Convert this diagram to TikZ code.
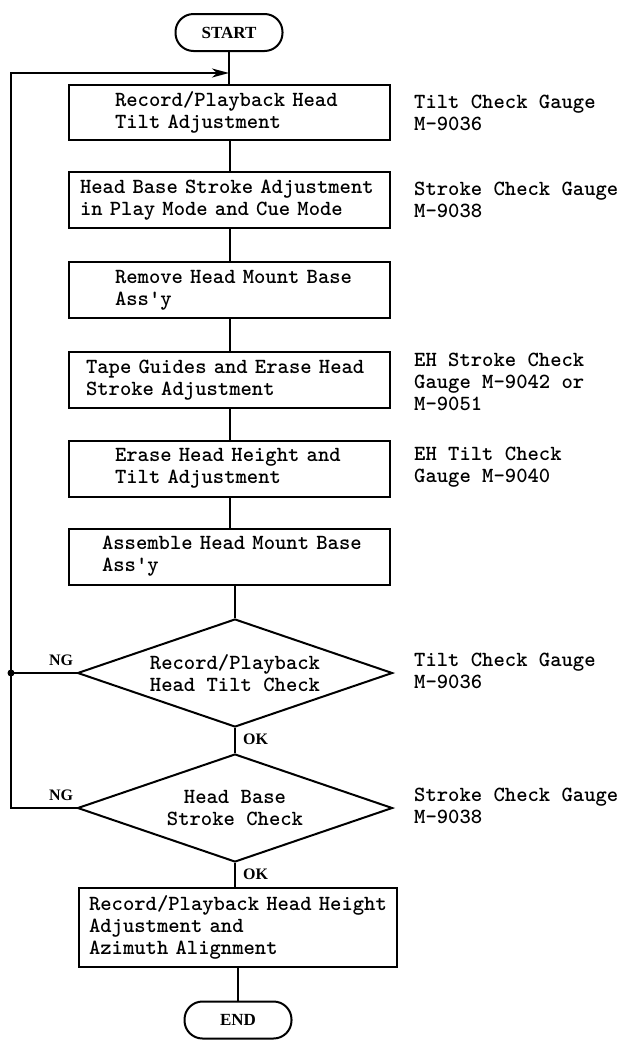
\documentclass[tikz,border=0pt]{standalone}
\usepackage{fontspec}
\newfontfamily\lserif{Liberation Serif}
\usetikzlibrary{shapes.geometric,arrows.meta}
\newcommand\ind[1]{\hspace*{#1pt}}
\begin{document}
\begin{tikzpicture}[x=1pt,y=-1pt,
  ln/.style={line width=2pt},
  tw/.style={font=\fontsize{21.6}{22}\selectfont\ttfamily\bfseries},
  box/.style={draw,ln,tw,rectangle,align=left,inner xsep=0pt,inner ysep=0pt,text width=#1},
  term/.style={draw,ln,rectangle,rounded corners=18pt,minimum width=107pt,minimum height=37pt,inner sep=0pt,font=\lserif\bfseries\fontsize{17}{19}\selectfont},
  tag/.style={inner sep=0pt,font=\lserif\bfseries\fontsize{16}{18}\selectfont},
  dec/.style={draw,ln,diamond,aspect=2.92,minimum width=315pt,minimum height=108pt,inner sep=0pt,align=center,tw},
  note/.style={tw,align=left,anchor=west,inner sep=0pt}]
\useasboundingbox (0,0) rectangle (621,1042);

\node[term] (start) at (229,32.5) {START};
\node[box=321pt,minimum height=55pt] (b1) at (229.5,112.5) {\ind{46}Record/Playback Head\\\ind{46}Tilt Adjustment};
\node[box=321pt,minimum height=56pt] (b2) at (229.5,200) {\ind{11}Head Base Stroke Adjustment\\\ind{11}in Play Mode and Cue Mode};
\node[box=321pt,minimum height=56pt] (b3) at (229.5,290) {\ind{46}Remove Head Mount Base\\\ind{46}Ass'y};
\node[box=321pt,minimum height=56pt] (b4) at (229.5,380) {\ind{17}Tape Guides and Erase Head\\\ind{17}Stroke Adjustment};
\node[box=321pt,minimum height=56pt] (b5) at (229.5,468.5) {\ind{46}Erase Head Height and\\\ind{46}Tilt Adjustment};
\node[box=321pt,minimum height=56pt] (b6) at (229.5,556.5) {\ind{33}Assemble Head Mount Base\\\ind{33}Ass'y};
\node[dec] (d1) at (235,673) {Record/Playback\\Head Tilt Check};
\node[dec] (d2) at (235,808) {Head Base\\Stroke Check};
\node[box=318pt,minimum height=79pt] (b7) at (238,927.5) {\ind{10}Record/Playback Head Height\\\ind{10}Adjustment and\\\ind{10}Azimuth Alignment};
\node[term] (end) at (238,1020) {END};

\node[note] (n1) at (414,112.5) {Tilt Check Gauge\\M-9036};
\node[note] (n2) at (414,200) {Stroke Check Gauge\\M-9038};
\node[note] (n4) at (414,382) {EH Stroke Check\\Gauge M-9042 or\\M-9051};
\node[note] (n5) at (414,467) {EH Tilt Check\\Gauge M-9040};
\node[note] (n6) at (414,671) {Tilt Check Gauge\\M-9036};
\node[note] (n7) at (414,806) {Stroke Check Gauge\\M-9038};

\node[tag] (ng1) at (61,660) {NG};
\node[tag] (ng2) at (61,795) {NG};
\node[tag,anchor=west] (ok1) at (243,739) {OK};
\node[tag,anchor=west] (ok2) at (243,874) {OK};

\draw[ln] (start.south) -- (start.south |- b1.north);
\draw[ln] (b1) -- (b2);
\draw[ln] (b2) -- (b3);
\draw[ln] (b3) -- (b4);
\draw[ln] (b4) -- (b5);
\draw[ln] (b5) -- (b6);
\draw[ln] (d1.north |- b6.south) -- (d1.north);
\draw[ln] (d1.south) -- (d2.north);
\draw[ln] (d2.south) -- (d2.south |- b7.north);
\draw[ln] (b7.south -| end.north) -- (end.north);

\coordinate (lx) at (11,0);
\coordinate (ar) at (229,73);
\draw[ln,-{Stealth[length=17pt,width=9pt,inset=5pt]}] (d2.west) -- (d2.west -| lx) -- (lx |- ar) -- (ar);
\draw[ln] (d1.west) -- (d1.west -| lx);
\fill (d1.west -| lx) circle (3.5pt);
\end{tikzpicture}
\end{document}
